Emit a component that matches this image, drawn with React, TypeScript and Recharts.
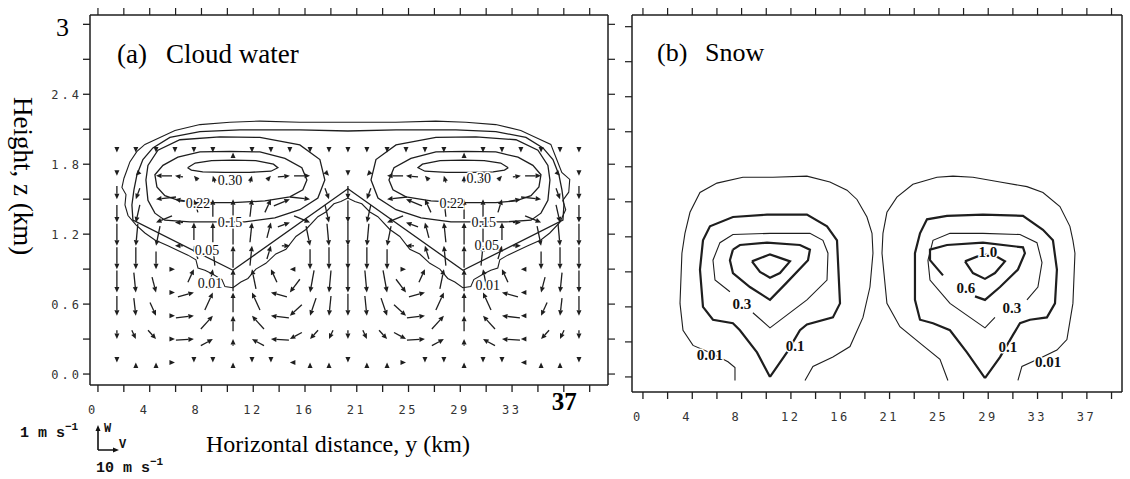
import React from "react";
import { ComposedChart, Line, Scatter, XAxis, YAxis } from "recharts";

const INK = "#1e1e1e";
const SERIF = "'Liberation Serif', 'Times New Roman', serif";
const MONO = "'DejaVu Sans Mono', monospace";
const TMONO = "'Liberation Mono', 'Courier New', monospace";

// axes: grid ticks every 2.05 km, labels on every other one
const xTicks = [0, 2.05, 4.1, 6.15, 8.2, 10.25, 12.3, 14.35, 16.4, 18.45, 20.5, 22.55, 24.6, 26.65, 28.7, 30.75, 32.8, 34.85, 36.9, 38.95];
const xTickLabels = ["0", "4", "8", "12", "16", "21", "25", "29", "33", "37"];
const zTicks = [0, 0.3, 0.6, 0.9, 1.2, 1.5, 1.8, 2.1, 2.4, 2.7, 3.0];
const zTickLabels = ["0.0", "0.6", "1.2", "1.8", "2.4", "3"];

// wind vectors of panel (a): v (m/s, horizontal) and w (m/s, vertical)
const vecY = [1.5, 3.0, 4.6, 6.1, 7.6, 9.1, 10.7, 12.2, 13.7, 15.2, 16.8, 18.3, 19.8, 21.3, 22.9, 24.4, 25.9, 27.4, 29.0, 30.5, 32.0, 33.5, 35.1, 36.6, 38.1];
const vecZ = [0.1, 0.3, 0.5, 0.7, 0.9, 1.1, 1.3, 1.5, 1.7, 1.9];
const vRows = [
  [0, 0, 0, 2, 0, 0, 0, 0, 0, -2, 0, 0, 0, 0, 0, 2, 0, 0, 0, 0, 0, -2, 0, 0, 0],
  [0, 2, 4, 1, 9, 6, 0, -6, -9, -6, -4, -2, 0, 2, 4, 6, 9, 6, 0, -6, -9, -1, -4, -2, 0],
  [0, 1, 3, 1, 9, 6, 0, -6, -9, -6, -3, -1, 0, 1, 3, 6, 9, 6, 0, -6, -9, -1, -3, -1, 0],
  [0, 1, 2, 1, 8, 4, 0, -4, -8, -5, -2, -1, 0, 1, 2, 5, 8, 4, 0, -4, -8, -1, -2, -1, 0],
  [0, 0, 0, 1, 3, 2, 0, -2, -3, -1, 0, 0, 0, 0, 0, 1, 3, 2, 0, -2, -3, -1, 0, 0, 0],
  [0, -1, -2, -4, -2, -1, 0, 1, 2, 4, 2, 1, 0, -1, -2, -4, -2, -1, 0, 1, 2, 4, 2, 1, 0],
  [0, -2, -8, -4, 0, 0, 0, 1, 2, 6, 8, 2, 0, -2, -8, -6, -2, -1, 0, 0, 0, 4, 8, 2, 0],
  [0, -2, -10, -6, -2, 0, 0, 1, 3, 8, 10, 2, 0, -2, -10, -8, -3, -1, 0, 0, 2, 6, 10, 2, 0],
  [0, -1, -8, -4, -2, -1, 0, 1, 2, 6, 8, 1, 0, -1, -8, -6, -2, -1, 0, 1, 2, 4, 8, 1, 0],
  [0, 0, 0, 0, 0, 0, 0, 0, 0, 0, 0, 0, 0, 0, 0, 0, 0, 0, 0, 0, 0, 0, 0, 0, 0],
];
const wRows = [
  [-0.05, 0.05, 0.05, 0, -0.05, -0.05, 0.05, -0.05, -0.05, 0, 0.05, 0.05, -0.05, 0.05, 0.05, 0, -0.05, -0.05, 0.05, -0.05, -0.05, 0, 0.05, 0.05, -0.05],
  [-0.4, -0.4, -0.4, 0, 0.05, 0.3, 0.3, 0.3, 0.05, -0.3, -0.4, -0.4, -0.4, -0.4, -0.4, -0.3, 0.05, 0.3, 0.3, 0.3, 0.05, 0, -0.4, -0.4, -0.4],
  [-0.9, -0.8, -0.6, 0, 0.1, 0.6, 0.7, 0.6, 0.1, -0.5, -0.8, -0.9, -1.0, -0.9, -0.8, -0.5, 0.1, 0.6, 0.7, 0.6, 0.1, 0, -0.6, -0.8, -0.9],
  [-1.0, -0.9, -0.7, 0, 0.2, 0.8, 0.9, 0.8, 0.2, -0.6, -1.0, -1.0, -1.1, -1.0, -1.0, -0.6, 0.2, 0.8, 0.9, 0.8, 0.2, 0, -0.7, -0.9, -1.0],
  [-1.0, -1.0, -0.8, 0, 0.6, 0.9, 1.0, 0.9, 0.6, 0, -0.9, -1.0, -1.1, -1.0, -0.9, 0, 0.6, 0.9, 1.0, 0.9, 0.6, 0, -0.8, -1.0, -1.0],
  [-1.0, -1.0, -0.9, 0, 0.6, 0.9, 1.0, 0.9, 0.6, 0, -0.9, -1.0, -1.1, -1.0, -0.9, 0, 0.6, 0.9, 1.0, 0.9, 0.6, 0, -0.9, -1.0, -1.0],
  [-0.8, -0.8, -0.3, 0, 0.8, 0.9, 1.0, 0.9, 0.7, 0.2, -0.3, -0.8, -1.0, -0.8, -0.3, 0.2, 0.7, 0.9, 1.0, 0.9, 0.8, 0, -0.3, -0.8, -0.8],
  [-0.6, -0.5, -0.1, 0.1, 0.6, 0.8, 0.9, 0.8, 0.6, 0.3, -0.1, -0.5, -0.6, -0.5, -0.1, 0.3, 0.6, 0.8, 0.9, 0.8, 0.6, 0.1, -0.1, -0.5, -0.6],
  [-0.05, -0.1, 0, 0.05, 0.2, 0.3, 0.3, 0.3, 0.2, 0.05, 0, -0.1, -0.05, -0.1, 0, 0.05, 0.2, 0.3, 0.3, 0.3, 0.2, 0.05, 0, -0.1, -0.05],
  [-0.05, -0.05, -0.05, -0.05, -0.05, -0.05, 0.05, -0.05, -0.05, -0.05, -0.05, -0.05, -0.05, -0.05, -0.05, -0.05, -0.05, -0.05, 0.05, -0.05, -0.05, -0.05, -0.05, -0.05, -0.05],
];

// cloud water contours (g/kg), [y km, z km]
const cw001: [number, number][] = [
  [10.69, 0.74], [10.06, 0.75], [9.82, 0.81], [9.03, 0.86], [8.47, 0.89], [7.92, 0.91], [7.76, 0.98], [7.13, 1.02], [6.33, 1.06],
  [5.54, 1.1], [4.51, 1.15], [3.72, 1.21], [3.01, 1.28], [2.38, 1.36], [2.14, 1.45], [2.22, 1.54], [1.9, 1.6], [2.06, 1.68],
  [2.3, 1.75], [2.53, 1.82], [3.09, 1.91], [3.72, 1.97], [4.91, 2.03], [6.1, 2.09], [8.08, 2.14], [10.45, 2.16], [12.83, 2.17],
  [15.99, 2.16], [19.79, 2.16], [23.59, 2.16], [26.76, 2.17], [29.14, 2.16], [31.51, 2.14], [33.49, 2.09], [34.68, 2.03],
  [35.87, 1.97], [36.34, 1.84], [36.74, 1.73], [37.37, 1.67], [37.29, 1.56], [36.82, 1.49], [37.05, 1.41], [36.58, 1.3],
  [35.79, 1.21], [35.08, 1.15], [34.05, 1.1], [33.25, 1.06], [32.46, 1.02], [31.83, 0.98], [31.67, 0.91], [31.12, 0.89],
  [30.56, 0.86], [29.77, 0.81], [29.53, 0.75], [28.9, 0.74], [28.27, 0.79], [27.71, 0.82], [27.08, 0.9], [26.29, 0.95],
  [25.49, 1.03], [24.7, 1.07], [23.91, 1.18], [23.12, 1.24], [22.17, 1.35], [21.54, 1.39], [20.9, 1.46], [20.35, 1.48],
  [19.79, 1.51], [19.24, 1.48], [18.69, 1.46], [18.05, 1.39], [17.42, 1.35], [16.47, 1.24], [15.68, 1.18], [14.89, 1.07],
  [14.09, 1.03], [13.3, 0.95], [12.51, 0.9], [11.88, 0.82], [11.32, 0.79], [10.69, 0.74],
];
const cw005: [number, number][] = [
  [10.69, 0.89], [2.77, 1.32], [2.69, 1.45], [2.85, 1.58], [3.09, 1.71], [3.56, 1.84], [4.35, 1.94], [5.7, 2.03], [8.08, 2.08],
  [11.24, 2.095], [15.99, 2.095], [19.8, 2.085], [23.61, 2.095], [28.36, 2.095], [31.52, 2.08], [33.9, 2.03], [35.25, 1.94],
  [36.04, 1.84], [36.51, 1.71], [36.75, 1.58], [36.91, 1.45], [36.83, 1.32], [28.91, 0.89], [19.8, 1.59], [10.69, 0.89],
];
const cw015L: [number, number][] = [
  [7.28, 1.305], [11.64, 1.305], [14.01, 1.34], [15.99, 1.41], [17.42, 1.51], [17.97, 1.665], [17.58, 1.84], [15.99, 1.965],
  [12.83, 2.03], [9.66, 2.035], [6.49, 2.01], [4.75, 1.92], [3.96, 1.79], [3.8, 1.665], [3.96, 1.49], [4.51, 1.38], [5.3, 1.32], [7.28, 1.305],
];
const cw015R: [number, number][] = [
  [32.32, 1.305], [27.96, 1.305], [25.59, 1.34], [23.61, 1.41], [22.18, 1.51], [21.63, 1.665], [22.02, 1.84], [23.61, 1.965],
  [26.77, 2.03], [29.94, 2.035], [33.11, 2.01], [34.85, 1.92], [35.64, 1.79], [35.8, 1.665], [35.64, 1.49], [35.09, 1.38], [34.3, 1.32], [32.32, 1.305],
];
const cw022L: [number, number][] = [
  [8.08, 1.47], [10.69, 1.47], [13.22, 1.485], [15.2, 1.52], [16.23, 1.58], [16.55, 1.665], [16.15, 1.77], [14.81, 1.85],
  [12.83, 1.905], [10.45, 1.91], [8.08, 1.905], [6.33, 1.86], [5.15, 1.79], [4.51, 1.71], [4.67, 1.605], [5.3, 1.53], [6.49, 1.485], [8.08, 1.47],
];
const cw022R: [number, number][] = [
  [31.52, 1.47], [28.91, 1.47], [26.38, 1.485], [24.4, 1.52], [23.37, 1.58], [23.05, 1.665], [23.45, 1.77], [24.79, 1.85],
  [26.77, 1.905], [29.15, 1.91], [31.52, 1.905], [33.27, 1.86], [34.45, 1.79], [35.09, 1.71], [34.93, 1.605], [34.3, 1.53], [33.11, 1.485], [31.52, 1.47],
];
const cw030L: [number, number][] = [
  [7.1, 1.77], [7.7, 1.81], [9.0, 1.83], [10.7, 1.835], [12.5, 1.83], [13.9, 1.8], [14.25, 1.77], [13.7, 1.74], [12.0, 1.73],
  [10.0, 1.73], [8.3, 1.735], [7.4, 1.75], [7.1, 1.77],
];
const cw030R: [number, number][] = [
  [32.5, 1.77], [31.9, 1.81], [30.6, 1.83], [28.9, 1.835], [27.1, 1.83], [25.7, 1.8], [25.35, 1.77], [25.9, 1.74], [27.6, 1.73],
  [29.6, 1.73], [31.3, 1.735], [32.2, 1.75], [32.5, 1.77],
];
const labelsA = [
  { x: 10.45, z: 1.665, t: "0.30" }, { x: 30.17, z: 1.68, t: "0.30" },
  { x: 7.92, z: 1.47, t: "0.22" }, { x: 28.03, z: 1.47, t: "0.22" },
  { x: 10.45, z: 1.305, t: "0.15" }, { x: 30.56, z: 1.305, t: "0.15" },
  { x: 8.63, z: 1.06, t: "0.05" }, { x: 30.8, z: 1.11, t: "0.05" },
  { x: 8.87, z: 0.78, t: "0.01" }, { x: 30.88, z: 0.76, t: "0.01" },
];

// snow contours (g/kg), [y km, z km]
const sn001L: [number, number][] = [
  [7.65, -0.03], [7.65, 0.08], [7.07, 0.13], [5.74, 0.2], [4.16, 0.27], [3.33, 0.4], [3.08, 0.63], [3.24, 1.06], [3.49, 1.23],
  [3.91, 1.41], [4.74, 1.58], [6.15, 1.66], [8.31, 1.71], [10.81, 1.71], [13.63, 1.72], [15.54, 1.67], [16.96, 1.6], [17.79, 1.52],
  [18.62, 1.37], [19.04, 1.23], [19.12, 1.06], [18.87, 0.77], [18.29, 0.51], [17.21, 0.26], [15.79, 0.17], [14.13, 0.09], [13.47, -0.03],
];
const sn001R: [number, number][] = [
  [25.35, -0.03], [24.69, 0.15], [23.03, 0.29], [21.36, 0.43], [20.28, 0.63], [19.87, 1.06], [19.95, 1.23], [20.28, 1.41],
  [21.11, 1.54], [22.44, 1.65], [24.44, 1.71], [25.77, 1.72], [27.43, 1.71], [29.68, 1.67], [31.92, 1.63], [33.25, 1.58],
  [34.66, 1.46], [35.49, 1.29], [35.74, 1.17], [35.91, 1.06], [35.74, 0.63], [35.24, 0.32], [34.41, 0.23], [33.0, 0.16], [31.5, 0.09], [31.17, -0.03],
];
const sn01L: [number, number][] = [
  [10.56, 0.0], [9.48, 0.21], [8.06, 0.4], [7.48, 0.46], [5.82, 0.49], [4.99, 0.6], [4.74, 0.92], [4.99, 1.17], [5.57, 1.29],
  [7.48, 1.37], [10.31, 1.39], [13.63, 1.39], [15.3, 1.29], [16.13, 1.17], [16.38, 0.63], [15.79, 0.51], [13.63, 0.45],
  [13.05, 0.4], [11.97, 0.21], [10.56, 0.0],
];
const sn01R: [number, number][] = [
  [28.43, -0.01], [26.93, 0.21], [25.52, 0.4], [24.11, 0.46], [23.03, 0.49], [22.61, 0.66], [22.61, 1.06], [23.03, 1.23],
  [23.61, 1.35], [25.27, 1.38], [28.26, 1.39], [31.59, 1.38], [33.25, 1.26], [34.08, 1.17], [34.41, 0.92], [34.25, 0.63],
  [33.58, 0.51], [32.17, 0.49], [31.34, 0.46], [30.76, 0.36], [29.68, 0.17], [28.43, -0.01],
];
const sn03L: [number, number][] = [
  [9.14, 0.55], [10.56, 0.42], [13.63, 0.66], [15.3, 0.83], [15.38, 1.06], [14.96, 1.17], [13.88, 1.23], [10.56, 1.23],
  [7.48, 1.22], [6.4, 1.15], [5.82, 1.0], [5.99, 0.83], [7.23, 0.73],
];
const sn03R: [number, number][] = [
  [31.92, 0.66], [32.83, 0.77], [33.17, 0.98], [32.75, 1.15], [31.34, 1.22], [28.26, 1.23], [25.52, 1.23], [24.11, 1.17],
  [23.69, 1.0], [23.86, 0.83], [25.52, 0.63], [27.18, 0.51], [28.43, 0.42], [29.26, 0.51],
];
const sn06L: [number, number][] = [
  [7.48, 1.09], [8.06, 1.13], [10.31, 1.15], [13.05, 1.13], [13.88, 1.09], [13.72, 1.0], [11.97, 0.81], [10.56, 0.66],
  [8.89, 0.77], [7.48, 0.89], [7.23, 1.0], [7.48, 1.09],
];
const sn06R: [number, number][] = [
  [24.94, 0.87], [23.86, 1.0], [23.86, 1.09], [25.27, 1.13], [28.26, 1.15], [31.59, 1.11], [31.75, 1.06], [31.17, 0.92],
  [29.68, 0.77], [28.43, 0.66], [27.6, 0.69],
];
const sn10L: [number, number][] = [[9.06, 0.99], [10.56, 1.05], [12.22, 0.99], [11.39, 0.89], [10.56, 0.85], [9.73, 0.9], [9.06, 0.99]];
const sn10R: [number, number][] = [
  [26.77, 0.99], [27.76, 1.03], [28.68, 1.05], [29.43, 1.03], [30.09, 0.99], [29.26, 0.89], [28.43, 0.84], [27.43, 0.89], [26.77, 0.99],
];
const labelsB = [
  { x: 5.57, z: 0.19, t: "0.01" }, { x: 8.23, z: 0.63, t: "0.3" }, { x: 12.64, z: 0.27, t: "0.1" },
  { x: 28.68, z: 1.07, t: "1.0" }, { x: 26.85, z: 0.76, t: "0.6" }, { x: 30.67, z: 0.59, t: "0.3" },
  { x: 30.34, z: 0.26, t: "0.1" }, { x: 33.67, z: 0.13, t: "0.01" },
];

const pts = (a: [number, number][]) => a.map(([x, z]) => ({ x, z }));
const vectors = vecZ.flatMap((z, j) => vecY.map((x, i) => ({ x, z, v: vRows[j][i], w: wRows[j][i] })));

// vector key: 10 m/s horizontal ~ 20 px, 1 m/s vertical ~ 22 px
const V_PX = 2;
const W_PX = 22;

function Arrow(props: any) {
  const { cx, cy, payload } = props;
  if (cx == null || cy == null) return null;
  const dx = payload.v * V_PX;
  const dy = -payload.w * W_PX;
  const len = Math.hypot(dx, dy);
  const ux = len > 0 ? dx / len : 0;
  const uy = len > 0 ? dy / len : 1;
  const h = 5.5;
  const hw = 2.5;
  const bx = cx - ux * h;
  const by = cy - uy * h;
  const head = `M${cx},${cy}L${bx - uy * hw},${by + ux * hw}L${bx + uy * hw},${by - ux * hw}Z`;
  return (
    <g>
      {len > h && <line x1={cx - dx} y1={cy - dy} x2={bx} y2={by} stroke={INK} strokeWidth={1.3} />}
      <path d={head} fill={INK} />
    </g>
  );
}

function TagA(props: any) {
  const { cx, cy, payload } = props;
  return (
    <text x={cx} y={cy} dy="0.35em" textAnchor="middle" fontFamily={SERIF} fontSize={14} fill="#111"
      stroke="#fff" strokeWidth={3} paintOrder="stroke">{payload.t}</text>
  );
}

function TagB(props: any) {
  const { cx, cy, payload } = props;
  return (
    <text x={cx} y={cy} dy="0.35em" textAnchor="middle" fontFamily={SERIF} fontSize={15} fontWeight="bold" fill="#111"
      stroke="#fff" strokeWidth={3} paintOrder="stroke">{payload.t}</text>
  );
}

const tickIndex = (list: number[], v: number) => list.findIndex((t) => Math.abs(t - v) < 1e-6);

// tick labels; the perpendicular position comes from the frame edge (base, px)
function XLabel(props: any) {
  const { x, payload, base, bold37 } = props;
  const k = tickIndex(xTicks, payload.value);
  if (k < 0 || k % 2 !== 0) return <g />;
  const label = xTickLabels[k / 2];
  if (bold37 && label === "37") {
    return <text x={x - 12} y={base + 25} fontFamily={SERIF} fontWeight="bold" fontSize={25} fill="#000">37</text>;
  }
  return <text x={x - 10} y={base + 29} fontFamily={MONO} fontSize={12} letterSpacing={2.5} fill="#333">{label}</text>;
}

function ZTick(props: any) {
  const { y, payload, base } = props;
  const k = tickIndex(zTicks, payload.value);
  const mark = <line x1={base - 7} y1={y} x2={base} y2={y} stroke={INK} strokeWidth={1.3} />;
  if (k < 0 || k % 2 !== 0) return mark;
  const label = zTickLabels[k / 2];
  if (label === "3") {
    return <g>{mark}<text x={base - 21} y={y + 12} textAnchor="end" fontFamily={SERIF} fontSize={26} fill="#000">3</text></g>;
  }
  return (
    <g>{mark}<text x={base - 8} y={y + 4.5} textAnchor="end" fontFamily={MONO} fontSize={12} letterSpacing={3} fill="#333">{label}</text></g>
  );
}

// x tick marks for the top edge and the bottom edge of the frame
function XMarks(props: any) {
  const { x, top, bottom } = props;
  return (
    <g>
      <path d={`M${x},${top - 7}V${top}`} stroke={INK} strokeWidth={1.2} />
      <path d={`M${x},${bottom}V${bottom + 7}`} stroke={INK} strokeWidth={1.3} />
    </g>
  );
}

function YMark(props: any) {
  const { y, side, base } = props;
  if (side === "right") return <path d={`M${base},${y}H${base + 7}`} stroke={INK} strokeWidth={1.2} />;
  return <path d={`M${base - 7},${y}H${base}`} stroke={INK} strokeWidth={1.2} />;
}

const axisLine = { stroke: INK, strokeWidth: 1.5 };

function PanelA() {
  const dom: [number, number] = [-0.63, 40.4];
  const zdom: [number, number] = [-0.094, 3.08];
  const thin = { stroke: INK, strokeWidth: 1.3, dot: false, isAnimationActive: false, type: "linear" as const };
  return (
    <ComposedChart width={620} height={479} margin={{ top: 7, right: 2, bottom: 64, left: 30 }}>
      <XAxis type="number" dataKey="x" domain={dom} ticks={xTicks} interval={0} allowDataOverflow height={30}
        axisLine={axisLine} tickLine={false} tick={<XLabel base={385} bold37 />} />
      <XAxis xAxisId="top" orientation="top" type="number" dataKey="x" domain={dom} ticks={xTicks} interval={0}
        allowDataOverflow height={8} axisLine={axisLine} tickLine={false} tick={<XMarks top={15} bottom={385} />} />
      <YAxis type="number" dataKey="z" domain={zdom} ticks={zTicks} interval={0} allowDataOverflow width={60}
        axisLine={axisLine} tickLine={false} tick={<ZTick base={90} />} />
      <YAxis yAxisId="right" orientation="right" type="number" dataKey="z" domain={zdom} ticks={zTicks} interval={0}
        allowDataOverflow width={10} axisLine={axisLine} tickLine={false} tick={<YMark side="right" base={608} />} />
      <Scatter data={vectors} shape={<Arrow />} isAnimationActive={false} />
      <Line data={pts(cw001)} dataKey="z" {...thin} strokeWidth={1.1} />
      <Line data={pts(cw005)} dataKey="z" {...thin} />
      <Line data={pts(cw015L)} dataKey="z" {...thin} />
      <Line data={pts(cw015R)} dataKey="z" {...thin} />
      <Line data={pts(cw022L)} dataKey="z" {...thin} />
      <Line data={pts(cw022R)} dataKey="z" {...thin} />
      <Line data={pts(cw030L)} dataKey="z" {...thin} />
      <Line data={pts(cw030R)} dataKey="z" {...thin} />
      <Scatter data={labelsA} shape={<TagA />} isAnimationActive={false} />
    </ComposedChart>
  );
}

function PanelB() {
  const dom: [number, number] = [-0.91, 39.82];
  const zdom: [number, number] = [-0.129, 3.1];
  const base = { stroke: INK, dot: false, isAnimationActive: false, type: "linear" as const };
  return (
    <ComposedChart width={510} height={479} margin={{ top: 7, right: 0, bottom: 57, left: 2 }}>
      <XAxis type="number" dataKey="x" domain={dom} ticks={xTicks} interval={0} allowDataOverflow height={30}
        axisLine={axisLine} tickLine={false} tick={<XLabel base={392} />} />
      <XAxis xAxisId="top" orientation="top" type="number" dataKey="x" domain={dom} ticks={xTicks} interval={0}
        allowDataOverflow height={8} axisLine={axisLine} tickLine={false} tick={<XMarks top={15} bottom={392} />} />
      <YAxis type="number" dataKey="z" domain={zdom} ticks={zTicks} interval={0} allowDataOverflow width={10}
        axisLine={axisLine} tickLine={false} tick={<YMark side="left" base={12} />} />
      <YAxis yAxisId="right" orientation="right" type="number" dataKey="z" domain={zdom} allowDataOverflow width={8}
        axisLine={axisLine} tickLine={false} tick={false} />
      <Line data={pts(sn001L)} dataKey="z" {...base} strokeWidth={1.1} />
      <Line data={pts(sn001R)} dataKey="z" {...base} strokeWidth={1.1} />
      <Line data={pts(sn01L)} dataKey="z" {...base} strokeWidth={2.2} />
      <Line data={pts(sn01R)} dataKey="z" {...base} strokeWidth={2.2} />
      <Line data={pts(sn03L)} dataKey="z" {...base} strokeWidth={1.1} />
      <Line data={pts(sn03R)} dataKey="z" {...base} strokeWidth={1.1} />
      <Line data={pts(sn06L)} dataKey="z" {...base} strokeWidth={2.2} />
      <Line data={pts(sn06R)} dataKey="z" {...base} strokeWidth={2.2} />
      <Line data={pts(sn10L)} dataKey="z" {...base} strokeWidth={2.2} />
      <Line data={pts(sn10R)} dataKey="z" {...base} strokeWidth={2.2} />
      <Scatter data={labelsB} shape={<TagB />} isAnimationActive={false} />
    </ComposedChart>
  );
}

export default function App() {
  return (
    <div style={{ position: "absolute", left: 0, top: 0, width: 1130, height: 479, background: "#fff", overflow: "hidden" }}>
      <div style={{ position: "absolute", left: 0, top: 0 }}>
        <PanelA />
      </div>
      <div style={{ position: "absolute", left: 620, top: 0 }}>
        <PanelB />
      </div>
      {/* titles, axis names and the vector key */}
      <svg width={1130} height={479} style={{ position: "absolute", left: 0, top: 0, pointerEvents: "none" }}>
        <text x={117} y={63} fontFamily={SERIF} fontSize={27} fill="#000">(a)</text>
        <text x={166} y={63} fontFamily={SERIF} fontSize={27} fill="#000">Cloud water</text>
        <text x={657} y={61} fontFamily={SERIF} fontSize={26} fill="#000">(b)</text>
        <text x={705} y={61} fontFamily={SERIF} fontSize={26} fill="#000">Snow</text>
        <text transform="translate(14,97) rotate(90)" fontFamily={SERIF} fontSize={27} fill="#000">Height, z (km)</text>
        <text x={206} y={452} fontFamily={SERIF} fontSize={24} fill="#000">Horizontal distance, y (km)</text>
        <text x={20} y={437} fontFamily={TMONO} fontSize={15} fontWeight="bold" fill="#111">
          1 m s<tspan dy={-7} fontSize={11}>−1</tspan>
        </text>
        <text x={96} y={472} fontFamily={TMONO} fontSize={15} fontWeight="bold" fill="#111">
          10 m s<tspan dy={-7} fontSize={11}>−1</tspan>
        </text>
        <text x={104} y={432} fontFamily={TMONO} fontSize={12} fontWeight="bold" fill="#111">W</text>
        <text x={119} y={448} fontFamily={TMONO} fontSize={12} fontWeight="bold" fill="#111">V</text>
        <path d="M98,450V430M98,450H114" stroke="#111" strokeWidth={1.6} fill="none" />
        <path d="M98,425L95.5,431L100.5,431Z M119,450L113,447.5L113,452.5Z" fill="#111" />
      </svg>
    </div>
  );
}
